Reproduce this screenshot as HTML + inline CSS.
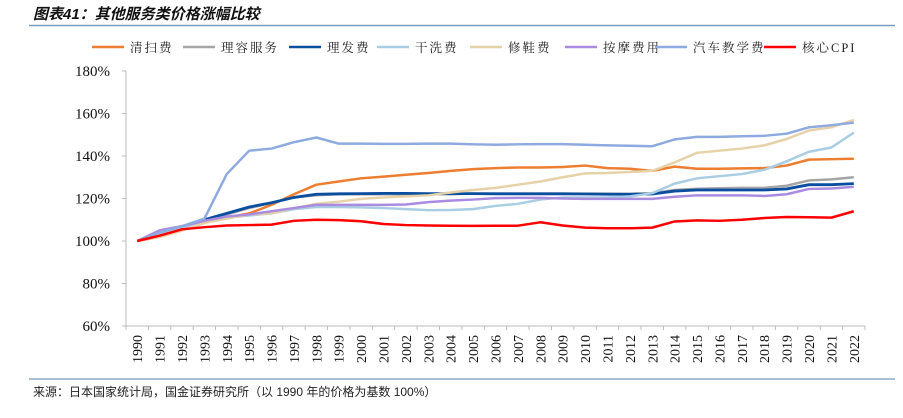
<!DOCTYPE html>
<html><head><meta charset="utf-8"><style>
body{margin:0;background:#fff;width:903px;height:413px;overflow:hidden;font-family:"Liberation Serif","Noto Serif CJK SC",serif;}
</style></head><body>
<svg width="903" height="413" xmlns="http://www.w3.org/2000/svg">
<text x="33" y="19" font-size="15" font-weight="bold" font-style="italic" font-family="'Liberation Sans','Noto Sans CJK SC',sans-serif" fill="#111">图表41：其他服务类价格涨幅比较</text>
<line x1="29" y1="25.5" x2="895" y2="25.5" stroke="#7a9cbf" stroke-width="1.5"/>
<g id="legend"></g>
<g id="grid"></g>
<g id="series"></g>
<line x1="29" y1="379" x2="895" y2="379" stroke="#a9bfd3" stroke-width="2"/>
<text x="33" y="396" font-size="12" font-family="'Liberation Sans','Noto Sans CJK SC',sans-serif" fill="#222">来源：日本国家统计局，国金证券研究所（以 1990 年的价格为基数 100%）</text>
</svg>
<script>
const years=[];for(let y=1990;y<=2022;y++)years.push(String(y));
const yTicks=[60,80,100,120,140,160,180];
const seriesNames=["清扫费","理容服务","理发费","干洗费","修鞋费","按摩费用","汽车教学费","核心CPI"];
const cleaning=[100,102,105,108.5,111,113,117,122,126.5,128,129.5,130.3,131.2,132,133,133.8,134.3,134.6,134.6,134.8,135.5,134.3,134,133,135,134,134,134.2,134.3,135.5,138.3,138.5,138.7];
const beauty=[100,102.5,106,109.5,112.5,115.5,118,120.5,121.5,122,122,122,122,122,122,122.3,122.3,122.3,122.3,122.3,122.3,122.3,122.2,122.5,124,124.6,124.8,125,125,126,128.5,129,130];
const haircut=[100,103,106.5,110,113,116,118,120.5,122,122.2,122.3,122.4,122.4,122.3,122.3,122.3,122.2,122.2,122.2,122.2,122.1,122,122,122.1,123.5,124,124,124,124,124.5,126.5,126.5,127];
const dryclean=[100,103,106,108.8,111,112,113,115,116,116,115.8,115.5,115,114.5,114.6,115,116.5,117.5,119.5,120.5,120.5,120.5,121,122.5,127,129.5,130.5,131.5,133.5,137.5,142,144,151];
const shoe=[100,102,105,108.5,110.5,112.5,113,115.5,117.5,118.5,119.8,120.5,121,121.5,122.8,124,125,126.5,128,130,131.8,132,132.5,133,137,141.5,142.5,143.5,145,148,152,153.5,157];
const massage=[100,105,107,109.5,111.5,112.5,114,115.5,117,117,117,117,117.2,118.3,119,119.5,120.2,120.3,120.3,120,119.8,119.8,119.8,119.8,120.8,121.5,121.5,121.5,121.2,122,124.5,124.7,125.5];
const driving=[100,104,107,110.5,131.5,142.5,143.5,146.5,148.7,145.8,145.8,145.7,145.7,145.8,145.8,145.5,145.3,145.5,145.6,145.6,145.3,145,144.8,144.6,147.8,149,149,149.3,149.5,150.5,153.5,154.5,155.7];
const coreCPI=[100,102.5,105.5,106.5,107.3,107.5,107.7,109.5,110,109.8,109.3,108,107.5,107.3,107.2,107.1,107.2,107.2,108.8,107.3,106.3,106,106,106.3,109.2,109.7,109.5,110,110.8,111.3,111.2,111,114];
const allSeries=[cleaning,beauty,haircut,dryclean,shoe,massage,driving,coreCPI];
const colors=["#ed7d31","#a5a5a5","#0a4ea0","#a9cde3","#e6d2a8","#a98be0","#8eaadf","#ff0000"];
const widths=[2.5,2.5,2.8,2.5,2.5,2.5,2.5,2.5];
const slugs=["cleaning","beauty","haircut","dry-clean","shoe-repair","massage","driving-school","core-cpi"];
const NS="http://www.w3.org/2000/svg";
const L=126,R=865,T=71,B=326;
const cw=(R-L)/years.length;
const xs=i=>L+cw*(i+0.5);
const ys=v=>B-(v-60)/120*(B-T);
const grid=document.getElementById('grid');
function mk(tag,attrs,parent){const e=document.createElementNS(NS,tag);for(const k in attrs)e.setAttribute(k,attrs[k]);parent.appendChild(e);return e;}
mk('line',{x1:L,y1:T,x2:L,y2:B,stroke:'#bbb','stroke-width':1},grid);
mk('line',{x1:L,y1:B,x2:R,y2:B,stroke:'#bbb','stroke-width':1},grid);
yTicks.forEach(v=>{
 const tk=mk('line',{x1:L-4,y1:ys(v),x2:L,y2:ys(v),stroke:'#bbb'},grid);
 
 
 const t=mk('text',{x:110,y:ys(v)+5,'text-anchor':'end','font-size':15,fill:'#111'},grid);
 t.textContent=v+'%';
 
 
});
for(let i=0;i<=years.length;i++){
 const tk=mk('line',{x1:L+cw*i,y1:B,x2:L+cw*i,y2:B+4,stroke:'#bbb'},grid);
 
 
}
years.forEach((y,i)=>{
 const t=mk('text',{transform:`translate(${xs(i)+5},${B+9}) rotate(-90)`,'text-anchor':'end','font-size':14,fill:'#111'},grid);
 t.textContent=y;
 
 
});
const sg=document.getElementById('series');
allSeries.forEach((s,k)=>{
 const p=mk('polyline',{points:s.map((v,i)=>xs(i)+','+ys(v)).join(' '),fill:'none',stroke:colors[k],'stroke-width':widths[k],'stroke-linejoin':'round'},sg);
 
 
});
const lg=document.getElementById('legend');
const lx=[92,183,289,377,470,565,655,764];
seriesNames.forEach((n,k)=>{
 const g=mk('g',{},lg);
 
 
 mk('line',{x1:lx[k],y1:47,x2:lx[k]+32,y2:47,stroke:colors[k],'stroke-width':2.5},g);
 const t=mk('text',{x:lx[k]+38,y:52,'font-size':12.5,fill:'#222','font-family':"'Liberation Serif','Noto Serif CJK SC',serif",'letter-spacing':'2'},g);
 t.textContent=n;
});
</script>
</body></html>
